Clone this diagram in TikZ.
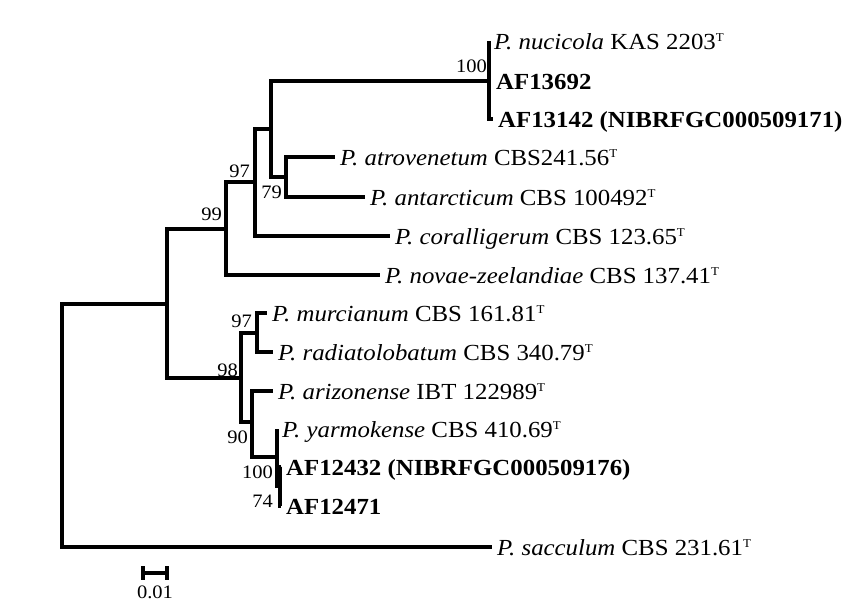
\documentclass[tikz,border=0pt]{standalone}
\usepackage{fontspec}
\setmainfont{Liberation Serif}[FakeStretch=1.08]
\newcommand\tsupmark{\raisebox{7.5pt}{\fontsize{12}{12}\selectfont T}}
\begin{document}
\begin{tikzpicture}[x=1pt,y=-1pt,
  br/.style={line width=3.2pt,line join=miter,black},
  leaf/.style={anchor=west,inner xsep=5pt,inner ysep=0pt,text height=20pt,text depth=4pt,font=\fontsize{23}{27}\selectfont},
  bs/.style={anchor=base east,inner sep=0pt,font=\fontsize{19}{20}\selectfont},
  sbtext/.style={anchor=base,inner sep=0pt,font=\fontsize{19}{20}\selectfont}]
\useasboundingbox[fill=white] (0,0) rectangle (866,603);
% internal nodes
\coordinate (root) at (62,425);
\coordinate (nA) at (167,304);
\coordinate (n99) at (226,229);
\coordinate (n97u) at (255,182);
\coordinate (nB) at (271,129);
\coordinate (n100u) at (489,81);
\coordinate (n79) at (286,177);
\coordinate (n98) at (241,378);
\coordinate (n97l) at (257,333);
\coordinate (n90) at (252,422);
\coordinate (n100l) at (277,457);
\coordinate (n74) at (280,486);
% leaves
\node[leaf] (t1) at (489,41) {\textit{P. nucicola} KAS 2203\tsupmark};
\node[leaf] (t2) at (491,81) {\textbf{AF13692}};
\node[leaf] (t3) at (493,119) {\textbf{AF13142 (NIBRFGC000509171)}};
\node[leaf] (t4) at (335,157) {\textit{P. atrovenetum} CBS241.56\tsupmark};
\node[leaf] (t5) at (365,197) {\textit{P. antarcticum} CBS 100492\tsupmark};
\node[leaf] (t6) at (390,236) {\textit{P. coralligerum} CBS 123.65\tsupmark};
\node[leaf] (t7) at (380,275) {\textit{P. novae-zeelandiae} CBS 137.41\tsupmark};
\node[leaf] (t8) at (267,313) {\textit{P. murcianum} CBS 161.81\tsupmark};
\node[leaf] (t9) at (273,352) {\textit{P. radiatolobatum} CBS 340.79\tsupmark};
\node[leaf] (t10) at (273,391) {\textit{P. arizonense} IBT 122989\tsupmark};
\node[leaf] (t11) at (277,429) {\textit{P. yarmokense} CBS 410.69\tsupmark};
\node[leaf] (t12) at (281,467) {\textbf{AF12432 (NIBRFGC000509176)}};
\node[leaf] (t13) at (281,506) {\textbf{AF12471}};
\node[leaf] (t14) at (492,547) {\textit{P. sacculum} CBS 231.61\tsupmark};
% branches
\draw[br] (root) |- (nA);
\draw[br] (root) |- (t14.west);
\draw[br] (nA) |- (n99);
\draw[br] (nA) |- (n98);
\draw[br] (n99) |- (n97u);
\draw[br] (n99) |- (t7.west);
\draw[br] (n97u) |- (nB);
\draw[br] (n97u) |- (t6.west);
\draw[br] (nB) |- (n100u);
\draw[br] (nB) |- (n79);
\draw[br] (n100u) |- (t1.west);
\draw[br] (n100u) |- (t2.west);
\draw[br] (n100u) |- (t3.west);
\draw[br] (n79) |- (t4.west);
\draw[br] (n79) |- (t5.west);
\draw[br] (n98) |- (n97l);
\draw[br] (n98) |- (n90);
\draw[br] (n97l) |- (t8.west);
\draw[br] (n97l) |- (t9.west);
\draw[br] (n90) |- (t10.west);
\draw[br] (n90) |- (n100l);
\draw[br] (n100l) |- (t11.west);
\draw[br] (n100l) |- (n74);
\draw[br] (n74) |- (t12.west);
\draw[br] (n74) |- (t13.west);
% bootstrap values
\node[bs] (b100u) at (487,72) {100};
\node[bs] (b79) at (282,198) {79};
\node[bs] (b97u) at (250,177) {97};
\node[bs] (b99) at (222,220) {99};
\node[bs] (b97l) at (252,327) {97};
\node[bs] (b98) at (238,376) {98};
\node[bs] (b90) at (248,443) {90};
\node[bs] (b100l) at (273,478) {100};
\node[bs] (b74) at (273,507) {74};
% scale bar
\coordinate (sbL) at (143,573);
\coordinate (sbR) at (167,573);
\coordinate (sbLt) at (143,566);
\coordinate (sbLb) at (143,580);
\coordinate (sbRt) at (167,566);
\coordinate (sbRb) at (167,580);
\draw[br] (sbL) -- (sbR);
\draw[br] (sbLt) -- (sbLb);
\draw[br] (sbRt) -- (sbRb);
\node[sbtext] (sblabel) at (155,598) {0.01};
\end{tikzpicture}
\end{document}
